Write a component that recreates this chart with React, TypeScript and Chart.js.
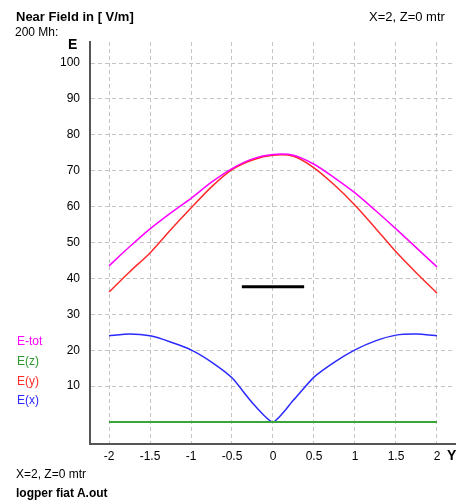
import React, { useEffect, useRef } from "react";
import { Chart, registerables } from "chart.js";

Chart.register(...registerables);

const positions = [-2, -1.75, -1.5, -1.25, -1, -0.75, -0.5, -0.25, 0, 0.25, 0.5, 0.75, 1, 1.25, 1.5, 1.75, 2];
const eTot = [43.5, 48.8, 53.8, 58.2, 62.3, 66.8, 70.6, 73.3, 74.5, 74.3, 71.8, 68.0, 63.8, 58.9, 53.8, 48.5, 43.2];
const eY = [36.2, 41.8, 47.1, 53.5, 59.6, 65.5, 70.3, 73.0, 74.3, 74.0, 70.8, 66.0, 60.4, 54.0, 47.4, 41.5, 35.9];
const eX = [24.0, 24.5, 24.0, 22.3, 20.1, 16.7, 12.3, 5.3, 0, 6.1, 12.5, 16.7, 20.1, 22.6, 24.2, 24.5, 24.0];
const eZ = [0, 0, 0, 0, 0, 0, 0, 0, 0, 0, 0, 0, 0, 0, 0, 0, 0];
const markerX = [-0.38, 0.38];
const markerY = [37.7, 37.7];
const xTicks = [-2, -1.5, -1, -0.5, 0, 0.5, 1, 1.5, 2];
const yTicks = [10, 20, 30, 40, 50, 60, 70, 80, 90, 100];

const FONT = "'Liberation Sans', Arial, sans-serif";

function pts(xs: number[], ys: number[]) {
  return xs.map((x, i) => ({ x, y: ys[i] }));
}

const label = (text: string, left: number, top: number, extra: React.CSSProperties = {}) => (
  <div
    style={{
      position: "absolute",
      left,
      top,
      transform: "translateY(-50%)",
      fontFamily: FONT,
      fontSize: 12,
      lineHeight: 1,
      whiteSpace: "nowrap",
      color: "#000",
      ...extra,
    }}
  >
    {text}
  </div>
);

export default function App() {
  const ref = useRef<HTMLCanvasElement | null>(null);

  useEffect(() => {
    if (!ref.current) return;
    const chart = new Chart(ref.current, {
      type: "line",
      data: {
        datasets: [
          { label: "E-tot", data: pts(positions, eTot), borderColor: "#ff00ff", borderWidth: 1.5, pointRadius: 0, tension: 0.3 },
          { label: "E(z)", data: pts(positions, eZ), borderColor: "#3aa53a", borderWidth: 2, pointRadius: 0 },
          { label: "E(y)", data: pts(positions, eY), borderColor: "#ff2a2a", borderWidth: 1.5, pointRadius: 0, tension: 0.3 },
          { label: "E(x)", data: pts(positions, eX), borderColor: "#2a2aff", borderWidth: 1.5, pointRadius: 0, tension: 0.2 },
          { label: "marker", data: pts(markerX, markerY), borderColor: "#000", borderWidth: 3, pointRadius: 0 },
        ],
      },
      options: {
        responsive: false,
        animation: false,
        layout: { padding: { left: 0, right: 10, top: 42, bottom: 0 } },
        plugins: { legend: { display: false }, tooltip: { enabled: false } },
        scales: {
          x: {
            type: "linear",
            min: -2.232,
            max: 2.22,
            afterBuildTicks: (axis: any) => {
              axis.ticks = xTicks.map((v) => ({ value: v }));
            },
            afterFit: (axis: any) => {
              axis.height = 59;
            },
            grid: { color: "#c4c4c4", drawTicks: false, lineWidth: 1 },
            border: { display: true, color: "#555", width: 2, dash: [4, 3] },
            ticks: {
              color: "#000",
              font: { family: FONT, size: 12 },
              padding: 5,
              maxRotation: 0,
              autoSkip: false,
              callback: (v: any) => String(v),
            },
          },
          y: {
            type: "linear",
            min: -6.13,
            max: 105.85,
            afterBuildTicks: (axis: any) => {
              axis.ticks = yTicks.map((v) => ({ value: v }));
            },
            afterFit: (axis: any) => {
              axis.width = 90;
            },
            grid: { color: "#c4c4c4", drawTicks: false, lineWidth: 1 },
            border: { display: true, color: "#555", width: 2, dash: [4, 3] },
            ticks: {
              color: "#000",
              font: { family: FONT, size: 12 },
              padding: 10,
              autoSkip: false,
              callback: (v: any) => String(v),
            },
          },
        },
      },
    } as any);
    return () => chart.destroy();
  }, []);

  return (
    <div style={{ position: "absolute", left: 0, top: 0, width: 465, height: 503, background: "#fff", overflow: "hidden" }}>
      <canvas ref={ref} width={465} height={503} style={{ position: "absolute", left: 0, top: 0, width: 465, height: 503 }} />
      {label("Near Field in [ V/m]", 16, 16, { fontWeight: "bold", fontSize: 13 })}
      {label("X=2, Z=0 mtr", 369, 16, { fontSize: 13 })}
      {label("200 Mh:", 15, 32)}
      {label("E", 68, 44, { fontWeight: "bold", fontSize: 14 })}
      {label("E-tot", 17, 341, { color: "#ff00ff" })}
      {label("E(z)", 17, 361, { color: "#2a9a2a" })}
      {label("E(y)", 17, 381, { color: "#ff2a2a" })}
      {label("E(x)", 17, 400, { color: "#2a2aff" })}
      {label("Y", 447, 455, { fontWeight: "bold", fontSize: 14 })}
      {label("X=2, Z=0 mtr", 16, 474)}
      {label("logper fiat A.out", 16, 493, { fontWeight: "bold" })}
    </div>
  );
}
